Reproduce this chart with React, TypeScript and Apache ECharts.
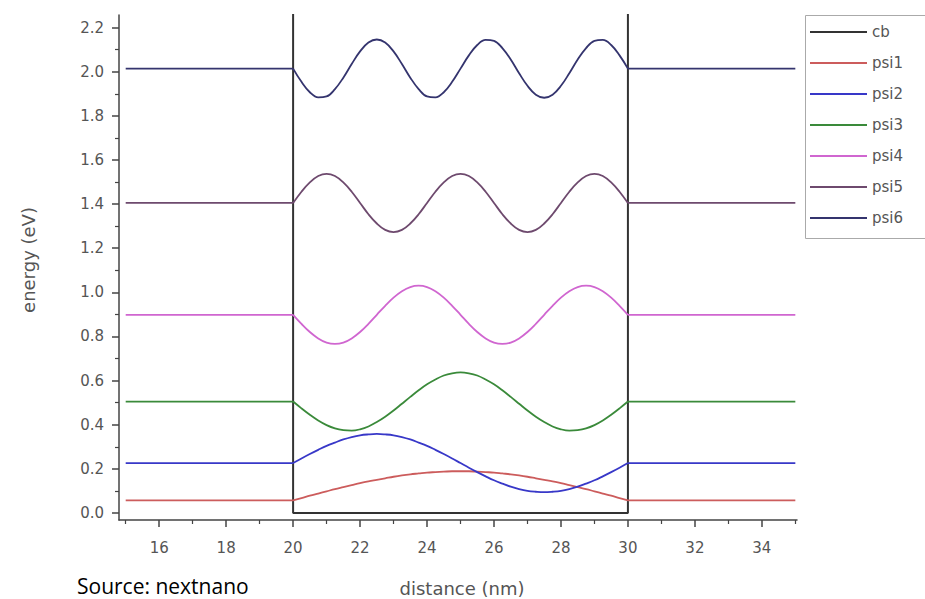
import React, { useEffect, useRef } from "react";
import * as echarts from "echarts";

// ---- data ----
const seriesNames = ["cb", "psi1", "psi2", "psi3", "psi4", "psi5", "psi6"];

// conduction band profile (values above the axis max are clipped)
const cbX = [15, 20, 20, 30, 30, 35];
const cbY = [2.6, 2.6, 0, 0, 2.6, 2.6];

// flat levels outside the well
const levels = [0.057, 0.226, 0.505, 0.898, 1.405, 2.014];
const leftX = [15, 20];
const rightX = [30, 35];

// sample positions inside the well (nm)
const wellX = [
  20, 20.25, 20.5, 20.75, 21, 21.25, 21.5, 21.75, 22, 22.25, 22.5, 22.75, 23, 23.25, 23.5, 23.75,
  24, 24.25, 24.5, 24.75, 25, 25.25, 25.5, 25.75, 26, 26.25, 26.5, 26.75, 27, 27.25, 27.5, 27.75,
  28, 28.25, 28.5, 28.75, 29, 29.25, 29.5, 29.75, 30,
];

const psi1 = [
  0.057, 0.067, 0.078, 0.088, 0.098, 0.108, 0.117, 0.126, 0.135, 0.143, 0.15, 0.157, 0.164, 0.17,
  0.175, 0.179, 0.183, 0.185, 0.187, 0.189, 0.189, 0.189, 0.187, 0.185, 0.183, 0.179, 0.175, 0.17,
  0.164, 0.157, 0.15, 0.143, 0.135, 0.126, 0.117, 0.108, 0.098, 0.088, 0.078, 0.067, 0.057,
];
const psi2 = [
  0.226, 0.247, 0.267, 0.286, 0.304, 0.319, 0.333, 0.344, 0.352, 0.356, 0.358, 0.356, 0.352, 0.344,
  0.333, 0.319, 0.304, 0.286, 0.267, 0.247, 0.226, 0.205, 0.185, 0.166, 0.148, 0.133, 0.119, 0.108,
  0.1, 0.096, 0.094, 0.096, 0.1, 0.108, 0.119, 0.133, 0.148, 0.166, 0.185, 0.205, 0.226,
];
const psi3 = [
  0.505, 0.474, 0.445, 0.419, 0.398, 0.383, 0.375, 0.373, 0.379, 0.392, 0.412, 0.436, 0.464, 0.495,
  0.526, 0.556, 0.583, 0.605, 0.623, 0.633, 0.637, 0.633, 0.623, 0.605, 0.583, 0.556, 0.526, 0.495,
  0.464, 0.436, 0.412, 0.392, 0.379, 0.373, 0.375, 0.383, 0.398, 0.419, 0.445, 0.474, 0.505,
];
const psi4 = [
  0.898, 0.857, 0.82, 0.791, 0.772, 0.766, 0.772, 0.791, 0.82, 0.857, 0.898, 0.939, 0.976, 1.005,
  1.024, 1.03, 1.024, 1.005, 0.976, 0.939, 0.898, 0.857, 0.82, 0.791, 0.772, 0.766, 0.772, 0.791,
  0.82, 0.857, 0.898, 0.939, 0.976, 1.005, 1.024, 1.03, 1.024, 1.005, 0.976, 0.939, 0.898,
];
const psi5 = [
  1.405, 1.456, 1.498, 1.527, 1.537, 1.527, 1.498, 1.456, 1.405, 1.354, 1.312, 1.283, 1.273, 1.283,
  1.312, 1.354, 1.405, 1.456, 1.498, 1.527, 1.537, 1.527, 1.498, 1.456, 1.405, 1.354, 1.312, 1.283,
  1.273, 1.283, 1.312, 1.354, 1.405, 1.456, 1.498, 1.527, 1.537, 1.527, 1.498, 1.456, 1.405,
];
const psi6 = [
  2.014, 1.954, 1.907, 1.884, 1.888, 1.921, 1.973, 2.035, 2.092, 2.132, 2.146, 2.132, 2.092, 2.035,
  1.973, 1.921, 1.888, 1.884, 1.907, 1.954, 2.014, 2.074, 2.121, 2.144, 2.14, 2.107, 2.055, 1.993,
  1.936, 1.896, 1.882, 1.896, 1.936, 1.993, 2.055, 2.107, 2.14, 2.144, 2.121, 2.074, 2.014,
];
const psiValues = [psi1, psi2, psi3, psi4, psi5, psi6];

// axis ticks
const xMajorTicks = [16, 18, 20, 22, 24, 26, 28, 30, 32, 34];
const xMinorTicks = [15, 17, 19, 21, 23, 25, 27, 29, 31, 33, 35];
const yMajorTicks = [0, 0.2, 0.4, 0.6, 0.8, 1.0, 1.2, 1.4, 1.6, 1.8, 2.0, 2.2];
const yMinorTicks = [0.1, 0.3, 0.5, 0.7, 0.9, 1.1, 1.3, 1.5, 1.7, 1.9, 2.1];

// ---- styling ----
const colors = ["#333333", "#cc5c5c", "#3838c8", "#3a8a3a", "#d066d0", "#6e4a6e", "#34346e"];
const X_MIN = 14.8;
const X_MAX = 35.05;
const Y_MIN = -0.032;
const Y_MAX = 2.257;
const axisColor = "#444";
const labelFont = "DejaVu Sans";

export default function App() {
  const ref = useRef<HTMLDivElement>(null);

  useEffect(() => {
    document.body.style.margin = "0";
    document.body.style.overflow = "hidden";
    const chart = echarts.init(ref.current!, null, { renderer: "svg", width: 925, height: 599 });

    const series: any[] = [
      {
        name: seriesNames[0],
        type: "line",
        data: cbX.map((x, i) => [x, cbY[i]]),
        symbol: "none",
        clip: true,
        lineStyle: { color: colors[0], width: 2 },
        itemStyle: { color: colors[0] },
        z: 2,
      },
    ];
    psiValues.forEach((vals, k) => {
      const lvl = levels[k];
      const data: any[] = [
        ...leftX.map((x) => [x, lvl]),
        [20, "-"],
        ...wellX.map((x, j) => [x, vals[j]]),
        [30, "-"],
        ...rightX.map((x) => [x, lvl]),
      ];
      series.push({
        name: seriesNames[k + 1],
        type: "line",
        data,
        symbol: "none",
        smooth: 0.4,
        connectNulls: false,
        clip: true,
        lineStyle: { color: colors[k + 1], width: 1.8 },
        itemStyle: { color: colors[k + 1] },
        z: 3,
      });
    });

    const option: any = {
      animation: false,
      backgroundColor: "#ffffff",
      grid: { left: 119, right: 128, top: 15, bottom: 79, containLabel: false },
      legend: {
        orient: "vertical",
        left: 810,
        top: 24,
        padding: 0,
        icon: "rect",
        itemWidth: 57,
        itemHeight: 2,
        itemGap: 15,
        data: seriesNames,
        textStyle: { fontFamily: labelFont, fontSize: 15, color: "#555", lineHeight: 16 },
      },
      xAxis: [
        {
          type: "value",
          min: X_MIN,
          max: X_MAX,
          axisLine: { show: true, onZero: false, lineStyle: { color: axisColor, width: 1.5 } },
          axisTick: {
            show: true,
            length: 7,
            customValues: xMajorTicks,
            lineStyle: { color: axisColor, width: 1.5 },
          },
          axisLabel: {
            customValues: xMajorTicks,
            margin: 20,
            fontFamily: labelFont,
            fontSize: 15,
            color: "#555",
          },
          splitLine: { show: false },
        },
        {
          type: "value",
          min: X_MIN,
          max: X_MAX,
          position: "bottom",
          axisLine: { show: false, onZero: false },
          axisTick: {
            show: true,
            length: 4,
            customValues: xMinorTicks,
            lineStyle: { color: axisColor, width: 1.2 },
          },
          axisLabel: { show: false },
          splitLine: { show: false },
        },
      ],
      yAxis: [
        {
          type: "value",
          min: Y_MIN,
          max: Y_MAX,
          axisLine: { show: true, onZero: false, lineStyle: { color: axisColor, width: 1.5 } },
          axisTick: {
            show: true,
            length: 7,
            customValues: yMajorTicks,
            lineStyle: { color: axisColor, width: 1.5 },
          },
          axisLabel: {
            customValues: yMajorTicks,
            margin: 15,
            fontFamily: labelFont,
            fontSize: 15,
            color: "#555",
            formatter: (v: number) => v.toFixed(1),
          },
          splitLine: { show: false },
        },
        {
          type: "value",
          min: Y_MIN,
          max: Y_MAX,
          position: "left",
          axisLine: { show: false, onZero: false },
          axisTick: {
            show: true,
            length: 4,
            customValues: yMinorTicks,
            lineStyle: { color: axisColor, width: 1.2 },
          },
          axisLabel: { show: false },
          splitLine: { show: false },
        },
      ],
      graphic: [
        {
          type: "rect",
          shape: { x: 805.5, y: 15.5, width: 150, height: 223 },
          style: { fill: "none", stroke: "#aaa", lineWidth: 1 },
          silent: true,
        },
        {
          type: "text",
          x: 28,
          y: 260,
          rotation: Math.PI / 2,
          style: {
            text: "energy (eV)",
            font: `18px "${labelFont}"`,
            fill: "#555",
            align: "center",
            verticalAlign: "middle",
          },
        },
        {
          type: "text",
          x: 462,
          y: 588,
          style: {
            text: "distance (nm)",
            font: `18px "${labelFont}"`,
            fill: "#555",
            align: "center",
            verticalAlign: "middle",
          },
        },
        {
          type: "text",
          x: 77,
          y: 575,
          style: {
            text: "Source: nextnano",
            font: `21px "Open Sans"`,
            fill: "#000",
            align: "left",
            verticalAlign: "top",
          },
        },
      ],
      series,
    };

    chart.setOption(option);
    return () => chart.dispose();
  }, []);

  return (
    <div
      ref={ref}
      style={{ position: "absolute", left: 0, top: 0, width: 925, height: 599, background: "#fff" }}
    />
  );
}
